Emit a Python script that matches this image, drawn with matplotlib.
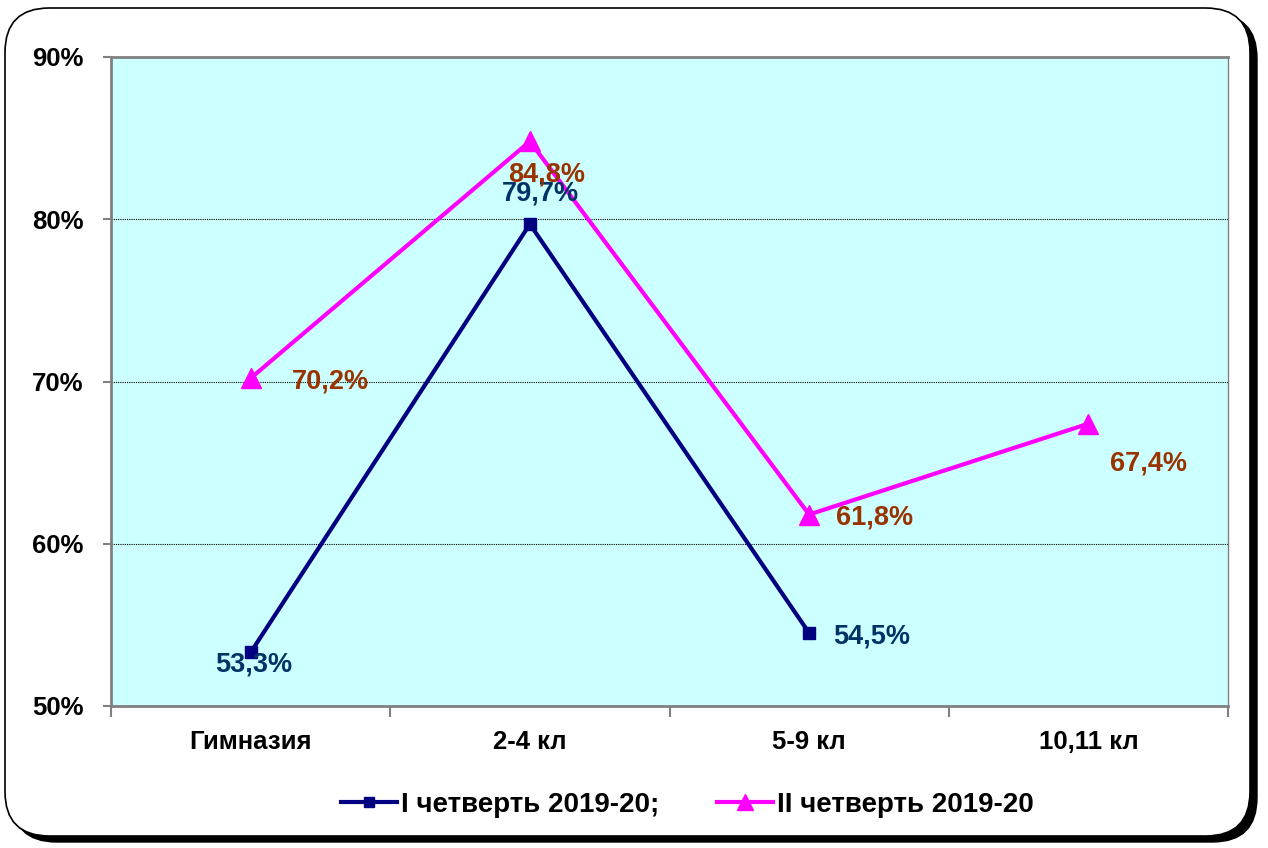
import numpy as np
import matplotlib.pyplot as plt
from matplotlib.patches import FancyBboxPatch

plt.rcParams['font.family'] = ['Liberation Sans', 'DejaVu Sans']
plt.rcParams['font.weight'] = 'bold'

categories = ['Гимназия', '2-4 кл', '5-9 кл', '10,11 кл']
q1_name = 'I четверть 2019-20;'
q2_name = 'II четверть 2019-20'
q1 = [53.3, 79.7, 54.5, np.nan]
q2 = [70.2, 84.8, 61.8, 67.4]
yticks = [50, 60, 70, 80, 90]

# label offsets in pixels (left edge / vertical centre relative to point)
q1_off = [(-36, -12), (-28, 31), (24, -4), None]
q2_off = [(41, -3), (-22, -33), (27, -3), (22, -40)]

fig = plt.figure(figsize=(12.68, 8.48), dpi=100)
fig.patch.set_facecolor('white')

# rounded frame with shadow
shadow = FancyBboxPatch((12 / 1268, 6 / 848), 1245 / 1268, 828 / 848,
                        boxstyle='round,pad=0,rounding_size=0.035',
                        transform=fig.transFigure, facecolor='black',
                        edgecolor='black', mutation_aspect=1268 / 848, zorder=0)
frame = FancyBboxPatch((5 / 1268, 12 / 848), 1245 / 1268, 828 / 848,
                       boxstyle='round,pad=0,rounding_size=0.035',
                       transform=fig.transFigure, facecolor='white',
                       edgecolor='black', linewidth=1.2,
                       mutation_aspect=1268 / 848, zorder=1)
fig.patches.extend([shadow, frame])

ax = fig.add_axes([111 / 1268, 142 / 848, 1117 / 1268, 649 / 848])
ax.set_zorder(2)
ax.set_facecolor('#CCFFFF')
x = np.arange(len(categories))

ax.plot(x, q1, color='#000080', linewidth=3, marker='s', markersize=9,
        label=q1_name, zorder=3)
ax.plot(x, q2, color='#FF00FF', linewidth=3, marker='^', markersize=15,
        label=q2_name, zorder=3)

for i, v in enumerate(q1):
    if q1_off[i] is None or np.isnan(v):
        continue
    ax.annotate(f'{v:.1f}%'.replace('.', ','), (x[i], v),
                xytext=q1_off[i], textcoords='offset pixels',
                ha='left', va='center', fontsize=19.5, fontweight='bold',
                color='#003366', zorder=4)
for i, v in enumerate(q2):
    ax.annotate(f'{v:.1f}%'.replace('.', ','), (x[i], v),
                xytext=q2_off[i], textcoords='offset pixels',
                ha='left', va='center', fontsize=19.5, fontweight='bold',
                color='#993300', zorder=4)

ax.set_xlim(-0.5, len(categories) - 0.5)
ax.set_ylim(50, 90)
ax.set_yticks(yticks)
ax.set_yticklabels([f'{t}%' for t in yticks], fontsize=18.5, fontweight='bold')
ax.set_xticks(x)
ax.set_xticklabels(categories, fontsize=18.5, fontweight='bold')
ax.set_xticks(np.arange(-0.5, len(categories), 1.0), minor=True)
ax.tick_params(axis='x', which='major', length=0, pad=17)
ax.tick_params(axis='x', which='minor', length=8, width=1.5, color='#808080')
ax.tick_params(axis='y', length=6, width=1.5, color='#808080', pad=14)

for t in [60, 70, 80]:
    ax.axhline(t, color='black', linestyle=(0, (1, 1)), linewidth=0.8, zorder=1)

for s in ['left', 'top', 'bottom', 'right']:
    ax.spines[s].set_color('#808080')
    ax.spines[s].set_linewidth(2)
ax.spines['right'].set_linewidth(1)

ax.legend(loc='center', bbox_to_anchor=(0.516, -0.152), ncol=2, frameon=False,
          handlelength=2.0, handletextpad=0.15, columnspacing=2.1,
          markerscale=0.8, prop={'weight': 'bold', 'size': 20})

fig.savefig('out.png', dpi=100, facecolor='white')
